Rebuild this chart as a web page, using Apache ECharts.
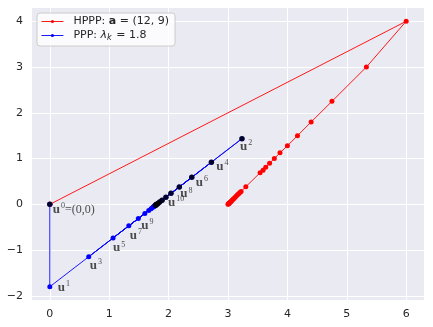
<!DOCTYPE html>
<html><head><meta charset="utf-8">
<script src="https://cdn.jsdelivr.net/npm/echarts@6/dist/echarts.min.js"></script>
<style>html,body{margin:0;padding:0;background:#fff}#c{width:433px;height:327px}</style>
</head><body><div id="c"></div>
<script>
// tick labels
const xTicks = [0, 1, 2, 3, 4, 5, 6];
const yTicks = [-2, -1, 0, 1, 2, 3, 4];

// HPPP iterates (red)
const hpppX = [0, 6.0, 5.33, 4.75, 4.40, 4.17, 4.00, 3.875, 3.78, 3.70, 3.635, 3.59, 3.54, 3.30, 3.22, 3.20, 3.18, 3.16, 3.14, 3.12, 3.10, 3.085, 3.07, 3.055, 3.045, 3.035, 3.025, 3.017, 3.01, 3.005, 3.0];
const hpppY = [0, 4.0, 3.0, 2.25, 1.80, 1.50, 1.28, 1.125, 1.0, 0.90, 0.81, 0.745, 0.69, 0.385, 0.28, 0.26, 0.23, 0.21, 0.18, 0.155, 0.13, 0.11, 0.09, 0.07, 0.058, 0.045, 0.032, 0.022, 0.013, 0.006, 0.0];

// PPP iterates u^0, u^1, u^2, ... (blue line; even iterates drawn black)
const pppX = [0, 0, 3.235, 0.655, 2.72, 1.065, 2.39, 1.33, 2.18, 1.49, 2.04, 1.60, 1.955, 1.665, 1.89, 1.705, 1.85, 1.73, 1.82, 1.745, 1.80, 1.755, 1.79, 1.762, 1.785, 1.768, 1.78];
const pppY = [0, -1.8, 1.435, -1.145, 0.92, -0.735, 0.59, -0.47, 0.38, -0.31, 0.24, -0.20, 0.155, -0.135, 0.09, -0.095, 0.05, -0.07, 0.02, -0.055, 0.0, -0.045, -0.01, -0.038, -0.015, -0.032, -0.02];

// point annotations
const annIndex = [0, 1, 2, 3, 4, 5, 6, 7, 8, 9, 10];
const annSup = ['0', '1', '2', '3', '4', '5', '6', '7', '8', '9', '10'];
const annSuffix = ['=(0,0)', '', '', '', '', '', '', '', '', '', ''];

// label placement (pixels, relative to point) — styling, not data
const annOffset = [[3, 5], [8, 1], [-2, 8], [1, 9], [5, 4], [0, 10], [4, 5], [1, 10], [1, 7], [3, 7], [-3, 9]];

const minus = v => (v < 0 ? '\u2212' + Math.abs(v) : String(v));

const hpppData = hpppX.map((x, i) => [x, hpppY[i]]);
const pppData = pppX.map((x, i) => [x, pppY[i]]);
const evenData = pppData.filter((d, i) => i % 2 === 0);
const annData = annIndex.map((k, j) => ({
  value: [pppX[k], pppY[k]],
  name: annSup[j],
  label: { offset: annOffset[j] },
  suffix: annSuffix[j]
}));

const chart = echarts.init(document.getElementById('c'), null, { renderer: 'canvas' });
const tickColor = '#262626';
const labelFont = 'DejaVu Sans';
chart.setOption({
  animation: false,
  backgroundColor: '#ffffff',
  grid: { left: 32, right: 9, top: 8, bottom: 27, show: true, backgroundColor: '#EAEAF2', borderWidth: 0 },
  xAxis: {
    type: 'value', min: -0.3, max: 6.3, splitNumber: xTicks.length - 1,
    axisLine: { show: false }, axisTick: { show: false },
    axisLabel: { showMinLabel: false, showMaxLabel: false, color: tickColor, fontFamily: labelFont, fontSize: 11, margin: 9, formatter: minus },
    splitLine: { show: true, showMinLine: false, showMaxLine: false, lineStyle: { color: '#ffffff', width: 1 } }
  },
  yAxis: {
    type: 'value', min: -2.09, max: 4.29, splitNumber: yTicks.length - 1,
    axisLine: { show: false }, axisTick: { show: false },
    axisLabel: { showMinLabel: false, showMaxLabel: false, color: tickColor, fontFamily: labelFont, fontSize: 11, margin: 9, formatter: minus },
    splitLine: { show: true, showMinLine: false, showMaxLine: false, lineStyle: { color: '#ffffff', width: 1 } }
  },
  legend: {
    data: ['HPPP', 'PPP'], orient: 'vertical', left: 37, top: 13,
    backgroundColor: 'rgba(255,255,255,0.8)', borderColor: '#cccccc', borderWidth: 1, borderRadius: 3,
    padding: [3, 6, 4, 4], itemGap: 3, itemWidth: 22, itemHeight: 4,
    lineStyle: { width: 0.9 },
    formatter: function (name) {
      if (name === 'HPPP') return '{n|HPPP: }{bb|a}{n| = (12, 9)}';
      return '{n|PPP: }{it|\u03bb}{sub|k}{n| = 1.8}';
    },
    textStyle: {
      padding: [0, 0, 0, 5],
      rich: {
        n: { fontFamily: labelFont, fontSize: 11, color: tickColor, lineHeight: 13 },
        bb: { fontFamily: labelFont, fontSize: 11, fontWeight: 'bold', color: tickColor, lineHeight: 13 },
        it: { fontFamily: labelFont, fontSize: 11, fontStyle: 'italic', color: tickColor, lineHeight: 13 },
        sub: { fontFamily: labelFont, fontSize: 8, fontStyle: 'italic', color: tickColor, padding: [5, 1, 0, 0] }
      }
    }
  },
  series: [
    {
      name: 'HPPP', type: 'line', data: hpppData, symbol: 'circle', symbolSize: 5, showSymbol: true,
      lineStyle: { color: '#ff0000', width: 0.9 }, itemStyle: { color: '#ff0000' }, z: 2
    },
    {
      name: 'PPP', type: 'line', data: pppData, symbol: 'circle', symbolSize: 5, showSymbol: true,
      lineStyle: { color: '#0000ff', width: 0.9 }, itemStyle: { color: '#0000ff' }, z: 3
    },
    {
      name: 'even', type: 'scatter', data: evenData, symbol: 'circle', symbolSize: 5.5,
      itemStyle: { color: '#000000' }, z: 4
    },
    {
      name: 'ann', type: 'scatter', data: annData, symbolSize: 0, z: 5,
      label: {
        show: true, position: 'right', distance: 0,
        formatter: function (p) { return '{b|u}{s|' + p.name + '}' + (p.data.suffix ? '{t|' + p.data.suffix + '}' : ''); },
        rich: {
          b: { fontFamily: 'Liberation Serif', fontWeight: 'bold', fontSize: 13, color: '#222222' },
          s: { fontFamily: 'Liberation Serif', fontSize: 8, color: '#222222', padding: [0, 0, 7, 1] },
          t: { fontFamily: 'Liberation Serif', fontSize: 12, color: '#222222' }
        }
      }
    }
  ]
});
</script>
</body></html>
